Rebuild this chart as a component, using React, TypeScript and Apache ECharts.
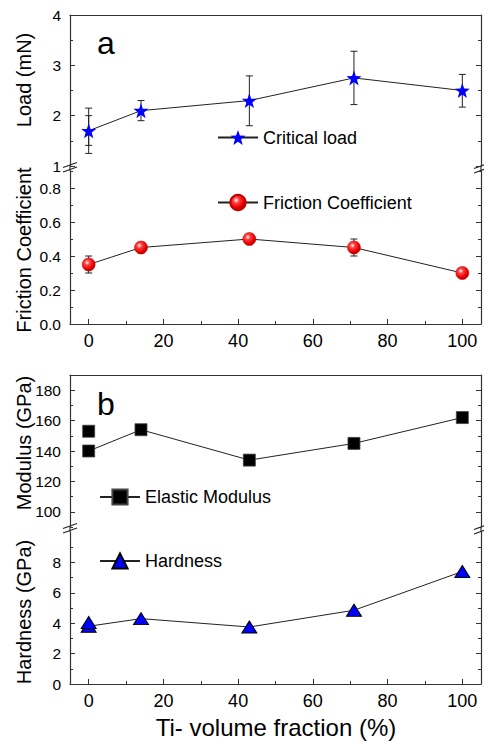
import React, { useEffect, useRef } from "react";
import * as echarts from "echarts";

const xVals = [0, 14, 43, 71, 100];
const loadVals = [1.7, 2.1, 2.3, 2.75, 2.5];
const loadLow = [1.25, 1.9, 1.8, 2.22, 2.17];
const loadHigh = [2.15, 2.3, 2.79, 3.28, 2.82];
const loadInner = [[0, 1.41, 2.0]];
const frictionVals = [0.35, 0.45, 0.5, 0.45, 0.3];
const frictionLow = [0.3, 0.42, 0.48, 0.4, 0.28];
const frictionHigh = [0.4, 0.48, 0.52, 0.5, 0.32];
const modulusVals = [140, 154, 134, 145, 162];
const modulusExtra = [[0, 153]];
const hardnessVals = [3.8, 4.3, 3.75, 4.85, 7.4];
const hardnessExtra = [[0, 4.05]];

const xMajor = [0, 20, 40, 60, 80, 100];
const xMinor = [10, 30, 50, 70, 90];
const loadMajor = [1, 2, 3, 4];
const loadMinor = [1.5, 2.5, 3.5];
const fricMajor = [0, 0.2, 0.4, 0.6, 0.8];
const fricMinor = [0.1, 0.3, 0.5, 0.7, 0.9];
const modMajor = [100, 120, 140, 160, 180];
const modMinor = [90, 110, 130, 150, 170, 190];
const hardMajor = [0, 2, 4, 6, 8];
const hardMinor = [1, 3, 5, 7, 9];

const FONT = "'Liberation Sans', Arial, sans-serif";
const AX = "#333";
const STAR =
  "path://M0,-10 L2.351,-3.236 L9.511,-3.09 L3.804,1.236 L5.878,8.09 L0,4 L-5.878,8.09 L-3.804,1.236 L-9.511,-3.09 L-2.351,-3.236 Z";

export default function App() {
  const ref = useRef<HTMLDivElement>(null);
  useEffect(() => {
    if (!ref.current) return;
    const chart = echarts.init(ref.current, null, { renderer: "svg" });

    const grids = [
      { left: 70, width: 411, top: 15, height: 151 },
      { left: 70, width: 411, top: 171, height: 153 },
      { left: 70, width: 411, top: 375, height: 152 },
      { left: 70, width: 411, top: 532, height: 152 },
    ];
    const yRanges = [
      [1, 4, loadMajor, loadMinor],
      [0, 0.9, fricMajor, fricMinor],
      [90, 190, modMajor, modMinor],
      [0, 10, hardMajor, hardMinor],
    ] as any[];

    const yAxis: any[] = [];
    yRanges.forEach((r, g) => {
      const [min, max, major, minor] = r;
      const fmt = (v: number) => (g === 1 ? v.toFixed(1) : String(v));
      ["left", "right"].forEach((pos) => {
        yAxis.push({
          type: "value",
          gridIndex: g,
          position: pos,
          min,
          max,
          splitLine: { show: false },
          axisLine: { show: true, onZero: false, lineStyle: { color: AX, width: 1.2 } },
          axisTick: { show: true, inside: true, length: 5, customValues: major, lineStyle: { color: AX } },
          axisLabel: {
            show: pos === "left",
            customValues: major,
            formatter: fmt,
            fontSize: 15.5,
            fontFamily: FONT,
            color: "#000",
            margin: 9,
          },
        });
        yAxis.push({
          type: "value",
          gridIndex: g,
          position: pos,
          min,
          max,
          splitLine: { show: false },
          axisLine: { show: false, onZero: false },
          axisTick: { show: true, inside: true, length: 3, customValues: minor, lineStyle: { color: AX } },
          axisLabel: { show: false },
        });
      });
    });

    const baseX = { type: "value", min: -5, max: 105, splitLine: { show: false } };
    const xAxis: any[] = [
      { ...baseX, gridIndex: 0, position: "top", axisLine: { show: true, onZero: false, lineStyle: { color: AX, width: 1.2 } }, axisTick: { show: false }, axisLabel: { show: false } },
      { ...baseX, gridIndex: 1, position: "bottom", axisLine: { show: true, onZero: false, lineStyle: { color: AX, width: 1.2 } }, axisTick: { show: true, inside: true, length: 5, customValues: xMajor, lineStyle: { color: AX } }, axisLabel: { customValues: xMajor, fontSize: 18, fontFamily: FONT, color: "#000", margin: 8 } },
      { ...baseX, gridIndex: 1, position: "bottom", axisLine: { show: false, onZero: false }, axisTick: { show: true, inside: true, length: 3, customValues: xMinor, lineStyle: { color: AX } }, axisLabel: { show: false } },
      { ...baseX, gridIndex: 2, position: "top", axisLine: { show: true, onZero: false, lineStyle: { color: AX, width: 1.2 } }, axisTick: { show: false }, axisLabel: { show: false } },
      { ...baseX, gridIndex: 3, position: "bottom", axisLine: { show: true, onZero: false, lineStyle: { color: AX, width: 1.2 } }, axisTick: { show: true, inside: true, length: 5, customValues: xMajor, lineStyle: { color: AX } }, axisLabel: { customValues: xMajor, fontSize: 18, fontFamily: FONT, color: "#000", margin: 8 } },
      { ...baseX, gridIndex: 3, position: "bottom", axisLine: { show: false, onZero: false }, axisTick: { show: true, inside: true, length: 3, customValues: xMinor, lineStyle: { color: AX } }, axisLabel: { show: false } },
    ];

    const errRender = (params: any, api: any) => {
      const x = api.value(0);
      const p1 = api.coord([x, api.value(1)]);
      const p2 = api.coord([x, api.value(2)]);
      const w = 3.5;
      const st = { stroke: "#222", lineWidth: 1 };
      return {
        type: "group",
        children: [
          { type: "line", shape: { x1: p1[0], y1: p1[1], x2: p2[0], y2: p2[1] }, style: st },
          { type: "line", shape: { x1: p1[0] - w, y1: p1[1], x2: p1[0] + w, y2: p1[1] }, style: st },
          { type: "line", shape: { x1: p2[0] - w, y1: p2[1], x2: p2[0] + w, y2: p2[1] }, style: st },
        ],
      };
    };

    const pair = (vals: number[]) => xVals.map((x, i) => [x, vals[i]]);
    const errData = (lo: number[], hi: number[]) => xVals.map((x, i) => [x, lo[i], hi[i]]);
    const lineStyle = { color: "#222", width: 1 };

    const sphere = {
      type: "radial",
      x: 0.38,
      y: 0.35,
      r: 0.65,
      colorStops: [
        { offset: 0, color: "#ffffff" },
        { offset: 0.3, color: "#ff4040" },
        { offset: 0.75, color: "#ee0000" },
        { offset: 1, color: "#b00000" },
      ],
    };

    const series: any[] = [
      { type: "custom", name: "load err", xAxisIndex: 0, yAxisIndex: 0, renderItem: errRender, encode: { x: 0, y: [1, 2] }, data: errData(loadLow, loadHigh), z: 1 },
      { type: "custom", name: "load err inner", xAxisIndex: 0, yAxisIndex: 0, renderItem: errRender, encode: { x: 0, y: [1, 2] }, data: loadInner, z: 1 },
      { type: "line", name: "Critical load", xAxisIndex: 0, yAxisIndex: 0, data: pair(loadVals), symbol: STAR, symbolSize: 15, itemStyle: { color: "#0000ff" }, lineStyle, z: 3 },

      { type: "custom", name: "friction err", xAxisIndex: 1, yAxisIndex: 4, renderItem: errRender, encode: { x: 0, y: [1, 2] }, data: errData(frictionLow, frictionHigh), z: 1 },
      { type: "line", name: "Friction Coefficient", xAxisIndex: 1, yAxisIndex: 4, data: pair(frictionVals), symbol: "circle", symbolSize: 13, itemStyle: { color: sphere, borderColor: "#c00000", borderWidth: 0.5 }, lineStyle, z: 3 },

      { type: "line", name: "Elastic Modulus", xAxisIndex: 3, yAxisIndex: 8, data: pair(modulusVals), symbol: "rect", symbolSize: 12, itemStyle: { color: "#000", borderColor: "#444", borderWidth: 0.8 }, lineStyle, z: 3 },
      { type: "scatter", name: "Modulus extra", xAxisIndex: 3, yAxisIndex: 8, data: modulusExtra, symbol: "rect", symbolSize: 12, itemStyle: { color: "#000", borderColor: "#444", borderWidth: 0.8, opacity: 1 }, z: 3 },

      { type: "line", name: "Hardness", xAxisIndex: 4, yAxisIndex: 12, data: pair(hardnessVals), symbol: "triangle", symbolSize: [15, 12], itemStyle: { color: "#0000ff", borderColor: "#000", borderWidth: 1 }, lineStyle, z: 3 },
      { type: "scatter", name: "Hardness extra", xAxisIndex: 4, yAxisIndex: 12, data: hardnessExtra, symbol: "triangle", symbolSize: [15, 12], itemStyle: { color: "#0000ff", borderColor: "#000", borderWidth: 1, opacity: 1 }, z: 3 },
    ];

    const legendBase = {
      orient: "horizontal",
      padding: 0,
      itemWidth: 40,
      itemHeight: 19,
      textStyle: { fontSize: 18, fontFamily: FONT, color: "#000" },
      selectedMode: false,
    };

    const titleText = (text: string, x: number, y: number, size: number, rot = 0) => ({
      type: "text",
      x,
      y,
      rotation: rot,
      style: { text, fontSize: size, fontFamily: FONT, fill: "#000", align: "center", verticalAlign: "middle" },
    });

    const brk = (x: number, y: number) => [
      { type: "line", shape: { x1: x - 7, y1: y + 2.5, x2: x + 7, y2: y - 2.5 }, style: { stroke: "#222", lineWidth: 1.2 } },
      { type: "line", shape: { x1: x - 7, y1: y + 7, x2: x + 7, y2: y + 2 }, style: { stroke: "#222", lineWidth: 1.2 } },
    ];

    chart.setOption({
      animation: false,
      backgroundColor: "#fff",
      grid: grids,
      xAxis,
      yAxis,
      series,
      legend: [
        { ...legendBase, data: ["Critical load"], left: 217, top: 128.5 },
        { ...legendBase, data: ["Friction Coefficient"], left: 217, top: 193.5 },
        { ...legendBase, data: ["Elastic Modulus"], left: 99, top: 488 },
        { ...legendBase, data: ["Hardness"], left: 99, top: 552 },
      ],
      graphic: [
        { type: "line", shape: { x1: 70, y1: 166, x2: 70, y2: 171 }, style: { stroke: AX, lineWidth: 1.2 } },
        { type: "line", shape: { x1: 481, y1: 166, x2: 481, y2: 171 }, style: { stroke: AX, lineWidth: 1.2 } },
        { type: "line", shape: { x1: 70, y1: 527, x2: 70, y2: 532 }, style: { stroke: AX, lineWidth: 1.2 } },
        { type: "line", shape: { x1: 481, y1: 527, x2: 481, y2: 532 }, style: { stroke: AX, lineWidth: 1.2 } },
        ...brk(70, 165),
        ...brk(481, 166),
        ...brk(70, 526),
        ...brk(481, 527),
        { type: "text", x: 97, y: 59, style: { text: "a", fontSize: 32, fontFamily: FONT, fill: "#000", align: "left", verticalAlign: "bottom" } },
        { type: "text", x: 97, y: 420, style: { text: "b", fontSize: 32, fontFamily: FONT, fill: "#000", align: "left", verticalAlign: "bottom" } },
        titleText("Load (mN)", 24, 80, 20, Math.PI / 2),
        titleText("Friction Coefficient", 24, 250, 20, Math.PI / 2),
        titleText("Modulus (GPa)", 24, 443, 20, Math.PI / 2),
        titleText("Hardness (GPa)", 24, 612, 20, Math.PI / 2),
        titleText("Ti- volume fraction (%)", 276, 727, 24),
      ],
    });
    return () => chart.dispose();
  }, []);
  return (
    <div
      ref={ref}
      style={{ position: "absolute", left: 0, top: 0, width: 484, height: 741, background: "#fff" }}
    />
  );
}
